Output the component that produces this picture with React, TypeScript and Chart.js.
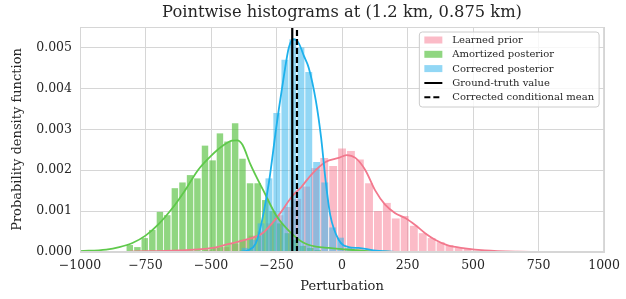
import React, { useEffect, useRef } from 'react';
import { Chart, registerables } from 'chart.js';

Chart.register(...registerables);

// ---------- text ----------
const TITLE = 'Pointwise histograms at (1.2 km, 0.875 km)';
const X_LABEL = 'Perturbation';
const Y_LABEL = 'Probability density function';
const LEGEND_LABELS = [
  'Learned prior',
  'Amortized posterior',
  'Correcred posterior',
  'Ground-truth value',
  'Corrected conditional mean',
];

// ---------- axes ----------
const X_MIN = -1000;
const X_MAX = 1000;
const X_STEP = 250;
const Y_MIN = 0;
const Y_MAX = 0.0055;
const Y_STEP = 0.001;

// ---------- histogram: learned prior ----------
const priorBinCenters = [
  -547, -513, -479, -445, -410, -376, -342, -308, -274, -239, -205, -171, -137, -103, -68, -34,
  0, 34, 68, 103, 137, 171, 205, 239, 274, 308, 342, 376, 410, 445, 479, 513,
];
const priorDensity = [
  0.00003, 0.00005, 0.0001, 0.00012, 0.0002, 0.0003, 0.0004, 0.0005, 0.0007, 0.0009, 0.0011, 0.0013,
  0.0016, 0.00205, 0.0023, 0.0021, 0.00253, 0.00247, 0.00226, 0.00168, 0.001, 0.0012, 0.00082,
  0.00088, 0.00064, 0.00046, 0.00034, 0.00024, 0.00017, 0.0001, 0.00008, 0.00003,
];

// ---------- histogram: amortized posterior ----------
const amortBinCenters = [
  -810, -781, -753, -724, -695, -667, -638, -609, -580, -552, -523, -494, -466, -437, -408, -380,
  -351, -322, -293, -265, -236, -207, -179, -150, -121, -93,
];
const amortDensity = [
  0.00017, 0.00012, 0.00034, 0.00054, 0.00098, 0.0009, 0.00156, 0.0017, 0.00188, 0.0018, 0.0026,
  0.00224, 0.0029, 0.0027, 0.00315, 0.00228, 0.00168, 0.00168, 0.00127, 0.001, 0.0007, 0.00046,
  0.0003, 0.00015, 0.0001, 0.00005,
];

// ---------- histogram: corrected posterior ----------
const corrBinCenters = [-370, -340, -309, -279, -249, -218, -188, -157, -127, -97, -66, -36, -6, 25];
const corrDensity = [
  0.0001, 0.0003, 0.0007, 0.0018, 0.0034, 0.0047, 0.0052, 0.005, 0.0044, 0.0022, 0.0017, 0.0006,
  0.00035, 0.0001,
];

// ---------- KDE curves ----------
const priorKdeX = [
  -810, -620, -495, -431, -366, -305, -267, -230, -192, -154, -116, -63, -13, 17, 51, 89, 127, 165,
  203, 241, 279, 317, 355, 404, 469, 545, 670, 860,
];
const priorKdeY = [
  0.00001, 0.00004, 0.0001, 0.0002, 0.0003, 0.00045, 0.0007, 0.001, 0.00135, 0.0016, 0.0019, 0.0022,
  0.0023, 0.00237, 0.0023, 0.002, 0.0015, 0.00115, 0.00095, 0.00083, 0.00066, 0.00046, 0.0003,
  0.00016, 0.00009, 0.00004, 0.00001, 0,
];

const amortKdeX = [
  -1000, -900, -850, -800, -750, -700, -650, -600, -550, -500, -450, -420, -400, -380, -350, -300,
  -250, -200, -150, -100, -50, 0, 100, 200,
];
const amortKdeY = [
  0.00002, 0.00006, 0.00012, 0.00022, 0.0004, 0.00068, 0.00105, 0.0015, 0.002, 0.00235, 0.00262,
  0.00272, 0.00273, 0.00262, 0.00215, 0.0015, 0.00088, 0.0005, 0.00024, 0.00013, 0.0001, 0.00007,
  0.00002, 0,
];

const corrKdeX = [
  -400, -355, -330, -317, -298, -279, -252, -241, -222, -203, -184, -165, -146, -127, -100, -80, -62,
  -45, -13, 25, 63, 120, 200,
];
const corrKdeY = [
  0, 0.00005, 0.0002, 0.00045, 0.001, 0.0017, 0.003, 0.0035, 0.0043, 0.005, 0.0052, 0.0051, 0.0048,
  0.0045, 0.0037, 0.0028, 0.0017, 0.0009, 0.0003, 0.00012, 0.0001, 0.00004, 0,
];

// ---------- reference lines ----------
const GROUND_TRUTH = -190;
const CORRECTED_MEAN = -172;

// ---------- styles ----------
const FONT = '"DejaVu Serif", serif';
const TEXT_COLOR = '#262626';
const GRID_COLOR = '#d6d6d6';
const PINK_LINE = '#f2788d';
const PINK_BAR = 'rgba(247, 113, 137, 0.48)';
const GREEN_LINE = '#5fc94b';
const GREEN_BAR = 'rgba(85, 192, 62, 0.65)';
const BLUE_LINE = '#1db1ec';
const BLUE_BAR = 'rgba(56, 182, 236, 0.55)';

const pts = (xs: number[], ys: number[]) => xs.map((x, i) => ({ x, y: ys[i] }));

const fmtX = (v: number) => (v < 0 ? '\u2212' + Math.abs(v) : String(v));

const frameLegendPlugin = {
  id: 'frameLegend',
  afterDatasetsDraw(chart: any) {
    const { ctx, chartArea: a } = chart;
    ctx.save();
    // frame
    ctx.strokeStyle = GRID_COLOR;
    ctx.lineWidth = 1;
    ctx.strokeRect(a.left + 0.5, a.top + 0.5, a.right - a.left - 1, a.bottom - a.top - 1);

    // title, centred over the plot area
    ctx.font = `16.3px ${FONT}`;
    ctx.fillStyle = TEXT_COLOR;
    ctx.textAlign = 'center';
    ctx.textBaseline = 'middle';
    ctx.fillText(TITLE, (a.left + a.right) / 2, a.top - 14);

    // legend
    ctx.font = `10px ${FONT}`;
    const maxW = Math.max(...LEGEND_LABELS.map((t) => ctx.measureText(t).width));
    const boxW = 33 + maxW + 5;
    const boxH = 75;
    const bx = a.right - 5 - boxW;
    const by = a.top + 5;
    ctx.beginPath();
    const r = 3;
    ctx.moveTo(bx + r, by);
    ctx.lineTo(bx + boxW - r, by);
    ctx.quadraticCurveTo(bx + boxW, by, bx + boxW, by + r);
    ctx.lineTo(bx + boxW, by + boxH - r);
    ctx.quadraticCurveTo(bx + boxW, by + boxH, bx + boxW - r, by + boxH);
    ctx.lineTo(bx + r, by + boxH);
    ctx.quadraticCurveTo(bx, by + boxH, bx, by + boxH - r);
    ctx.lineTo(bx, by + r);
    ctx.quadraticCurveTo(bx, by, bx + r, by);
    ctx.closePath();
    ctx.fillStyle = 'rgba(255,255,255,0.8)';
    ctx.fill();
    ctx.strokeStyle = '#cccccc';
    ctx.stroke();

    const rowY = [8, 22.3, 36.6, 51, 65.3];
    const patches = [PINK_BAR, GREEN_BAR, BLUE_BAR];
    LEGEND_LABELS.forEach((label, i) => {
      const cy = by + rowY[i];
      const px = bx + 5;
      if (i < 3) {
        ctx.fillStyle = patches[i];
        ctx.fillRect(px, cy - 3.5, 18, 7);
      } else {
        ctx.strokeStyle = '#000';
        ctx.lineWidth = 2;
        ctx.setLineDash(i === 4 ? [6, 3] : []);
        ctx.beginPath();
        ctx.moveTo(px, cy);
        ctx.lineTo(px + 18, cy);
        ctx.stroke();
        ctx.setLineDash([]);
      }
      ctx.fillStyle = TEXT_COLOR;
      ctx.textBaseline = 'middle';
      ctx.textAlign = 'left';
      ctx.fillText(label, bx + 33, cy + 0.5);
    });
    ctx.restore();
  },
};

export default function App() {
  const canvasRef = useRef<HTMLCanvasElement | null>(null);

  useEffect(() => {
    if (!canvasRef.current) return;
    const hiddenX = (extra: any = {}) => ({
      type: 'linear',
      min: X_MIN,
      max: X_MAX,
      offset: false,
      display: false,
      grid: { offset: false },
      ...extra,
    });
    const barBase = {
      type: 'bar',
      grouped: false,
      barPercentage: 0.88,
      categoryPercentage: 1,
      borderWidth: 0,
    };
    const lineBase = {
      type: 'line',
      xAxisID: 'x',
      pointRadius: 0,
      borderWidth: 1.8,
      fill: false,
      cubicInterpolationMode: 'monotone',
    };
    const chart = new Chart(canvasRef.current, {
      type: 'bar',
      data: {
        datasets: [
          { ...barBase, label: LEGEND_LABELS[0], xAxisID: 'xPrior', data: pts(priorBinCenters, priorDensity), backgroundColor: PINK_BAR, order: 10 },
          { ...barBase, label: LEGEND_LABELS[1], xAxisID: 'xAmort', data: pts(amortBinCenters, amortDensity), backgroundColor: GREEN_BAR, order: 9 },
          { ...barBase, label: LEGEND_LABELS[2], xAxisID: 'xCorr', data: pts(corrBinCenters, corrDensity), backgroundColor: BLUE_BAR, order: 8 },
          { ...lineBase, label: 'prior kde', data: pts(priorKdeX, priorKdeY), borderColor: PINK_LINE, order: 7 },
          { ...lineBase, label: 'amortized kde', data: pts(amortKdeX, amortKdeY), borderColor: GREEN_LINE, order: 6 },
          { ...lineBase, label: 'corrected kde', data: pts(corrKdeX, corrKdeY), borderColor: BLUE_LINE, order: 5 },
          { ...lineBase, label: LEGEND_LABELS[3], cubicInterpolationMode: 'default', tension: 0, data: [{ x: GROUND_TRUTH, y: Y_MIN }, { x: GROUND_TRUTH, y: Y_MAX }], borderColor: '#000', borderWidth: 2.2, order: 2 },
          { ...lineBase, label: LEGEND_LABELS[4], cubicInterpolationMode: 'default', tension: 0, data: [{ x: CORRECTED_MEAN, y: Y_MIN }, { x: CORRECTED_MEAN, y: Y_MAX }], borderColor: '#000', borderWidth: 2.2, borderDash: [6, 3], order: 1 },
        ] as any,
      },
      options: {
        animation: false,
        responsive: true,
        maintainAspectRatio: false,
        layout: { padding: { left: 0, right: 19, top: 27, bottom: 0 } },
        plugins: {
          legend: { display: false },
          tooltip: { enabled: false },
          title: { display: false },
        },
        scales: {
          x: {
            type: 'linear',
            position: 'bottom',
            min: X_MIN,
            max: X_MAX,
            offset: false,
            grid: { color: GRID_COLOR, drawTicks: false, offset: false },
            border: { color: GRID_COLOR },
            ticks: {
              stepSize: X_STEP,
              color: TEXT_COLOR,
              font: { family: FONT, size: 12.5 },
              padding: 6,
              maxRotation: 0,
              callback: (v: any) => fmtX(Number(v)),
            },
            title: {
              display: true,
              text: X_LABEL,
              color: TEXT_COLOR,
              font: { family: FONT, size: 13 },
              padding: { top: 0, bottom: 5 },
            },
            afterFit: (s: any) => {
              s.height = 47;
            },
          },
          xPrior: hiddenX(),
          xAmort: hiddenX(),
          xCorr: hiddenX(),
          y: {
            type: 'linear',
            min: Y_MIN,
            max: Y_MAX,
            grid: { color: GRID_COLOR, drawTicks: false },
            border: { color: GRID_COLOR },
            ticks: {
              stepSize: Y_STEP,
              includeBounds: false,
              color: TEXT_COLOR,
              font: { family: FONT, size: 12.5 },
              padding: 8,
              callback: (v: any) => Number(v).toFixed(3),
            },
            title: {
              display: true,
              text: Y_LABEL,
              color: TEXT_COLOR,
              font: { family: FONT, size: 13 },
              padding: { top: 10, bottom: 0 },
            },
            afterFit: (s: any) => {
              s.width = 80;
            },
          },
        } as any,
      },
      plugins: [frameLegendPlugin],
    } as any);
    return () => chart.destroy();
  }, []);

  return (
    <div style={{ position: 'absolute', left: 0, top: 0, width: 626, height: 299, background: '#fff' }}>
      <canvas ref={canvasRef} />
    </div>
  );
}
